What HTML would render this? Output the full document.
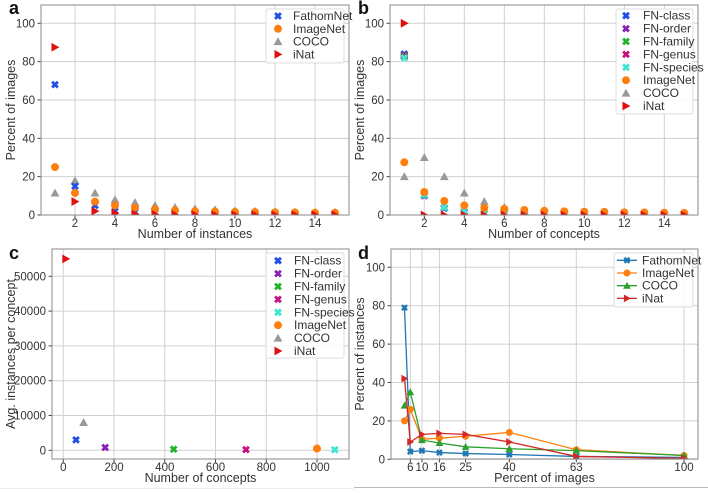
<!DOCTYPE html>
<html><head><meta charset="utf-8">
<style>
body{margin:0;background:#fff;}
svg{display:block;font-family:"Liberation Sans","DejaVu Sans",sans-serif;}
.tick{font-size:11.5px;fill:#333;}
.axt{font-size:12.5px;fill:#333;}
.leg{font-size:12px;fill:#333;}
.pl{font-size:18px;font-weight:bold;fill:#111;}
</style></head>
<body>
<svg id="chart" width="708" height="493" viewBox="0 0 708 493"></svg>
<script>
// ---------- data ----------
const xInst = [1,2,3,4,5,6,7,8,9,10,11,12,13,14,15];
const aFathom = [68,15,5,2,1.5,1,0.8,0.6,0.5,0.4,0.3,0.3,0.2,0.2,0.2];
const aImageNet = [25,11.5,7,5,3.8,3,2.5,2,1.8,1.6,1.5,1.4,1.3,1.2,1.2];
const aCOCO = [11.5,18,11.5,8,6.5,5,4,3.3,2.8,2.3,2,1.8,1.6,1.5,1.4];
const aINat = [87.5,7,2,1,0.5,0.3,0.2,0.2,0.1,0.1,0.1,0.1,0.1,0.1,0.1];

const bFNclass = [84,10,3.5,1.5,0.8,0.5,0.3,0.2,0.1,0.1,0.1,0.1,0.1,0.1,0.1];
const bFNorder = [83.5,10.2,3.7,1.6,0.8,0.5,0.3,0.2,0.1,0.1,0.1,0.1,0.1,0.1,0.1];
const bFNfamily = [83,10.3,3.8,1.7,0.9,0.5,0.3,0.2,0.1,0.1,0.1,0.1,0.1,0.1,0.1];
const bFNgenus = [82.5,10.4,3.9,1.8,0.9,0.5,0.3,0.2,0.1,0.1,0.1,0.1,0.1,0.1,0.1];
const bFNspecies = [82,10.5,4,2,1,0.6,0.3,0.2,0.1,0.1,0.1,0.1,0.1,0.1,0.1];
const bImageNet = [27.5,12,7.3,5,3.7,3.2,2.6,2.2,1.9,1.7,1.6,1.4,1.3,1.2,1.1];
const bCOCO = [20,30,20,11.5,7,4,2,1,0.6,0.4,0.3,0.2,0.1,0.1,0.1];
const bINat = [100,0,0,0,0,0,0,0,0,0,0,0,0,0,0];

const cNames = ["FN-class","FN-order","FN-family","FN-genus","FN-species","ImageNet","COCO","iNat"];
const cConcepts = [50,165,435,720,1070,1000,80,10];
const cAvgInst = [3000,800,300,200,150,500,8000,55000];

const dX = [4,6,10,16,25,40,63,100];
const dFathom = [79,4,4.5,3.5,3,2.5,1.5,1];
const dImageNet = [20,26,10.5,11,12,14,5,2];
const dCOCO = [28,35,10,8.5,6.5,5.5,4.5,2];
const dINat = [42,9,13,13.5,13,9,1.5,0.5];

const xTicksInst = [2,4,6,8,10,12,14];
const yTicksPct = [0,20,40,60,80,100];
const cXTicks = [0,200,400,600,800,1000];
const cYTicks = [0,10000,20000,30000,40000,50000];
const dXTicks = [6,10,16,25,40,63,100];

// ---------- helpers ----------
const NS="http://www.w3.org/2000/svg";
const svg=document.getElementById('chart');
function mk(tag,attrs,parent){const e=document.createElementNS(NS,tag);for(const k in attrs)e.setAttribute(k,attrs[k]);(parent||svg).appendChild(e);return e;}
function txt(s,attrs,parent){const e=mk('text',attrs,parent);e.textContent=s;return e;}

function marker(g,type,x,y,color,s){
  let e;
  if(type==='x'){
    const a=s*0.36;
    e=mk('path',{d:`M${x-a},${y-a}L${x+a},${y+a}M${x+a},${y-a}L${x-a},${y+a}`,stroke:color,'stroke-width':s*0.36,fill:'none'},g);
  }else if(type==='o'){
    e=mk('circle',{cx:x,cy:y,r:s*0.5,fill:color},g);
  }else if(type==='^'){
    const h=s*0.55;
    e=mk('polygon',{points:`${x},${y-h} ${x+h},${y+h*0.8} ${x-h},${y+h*0.8}`,fill:color},g);
  }else{
    const h=s*0.55;
    e=mk('polygon',{points:`${x+h},${y} ${x-h*0.8},${y-h} ${x-h*0.8},${y+h}`,fill:color},g);
  }
  return e;
}

function panel(cfg){
  const g=mk('g',{});
  
  
  const {L,R,T,B}=cfg;
  const sx=v=>cfg.x0px+(v-cfg.x0)*cfg.xs;
  const sy=v=>cfg.y0px-(v-cfg.y0)*cfg.ys;
  const grid=mk('g',{},g);
  
  
  cfg.xt.forEach(t=>{mk('line',{x1:sx(t),x2:sx(t),y1:T,y2:B,stroke:'#d0d0d0','stroke-width':1},grid);});
  cfg.yt.forEach(t=>{mk('line',{x1:L,x2:R,y1:sy(t),y2:sy(t),stroke:'#d0d0d0','stroke-width':1},grid);});
  const xa=mk('g',{},g);
  
  
  cfg.xt.forEach(t=>{
    mk('line',{x1:sx(t),x2:sx(t),y1:B,y2:B+3.5,stroke:'#444'},xa);
    const lab=txt(String(t),{x:sx(t),y:B+cfg.xtOff,'text-anchor':'middle',class:'tick'},xa);
    
    
  });
  const ya=mk('g',{},g);
  
  
  cfg.yt.forEach(t=>{
    mk('line',{x1:L-3.5,x2:L,y1:sy(t),y2:sy(t),stroke:'#444'},ya);
    const lab=txt(String(t),{x:L-6,y:sy(t)+4,'text-anchor':'end',class:'tick'},ya);
    
    
  });
  const xtl=txt(cfg.xlabel,{x:(L+R)/2,y:cfg.xly,'text-anchor':'middle',class:'axt'},g);
  
  
  const ytl=txt(cfg.ylabel,{x:0,y:0,'text-anchor':'middle',class:'axt',transform:`translate(${cfg.ylx},${(T+B)/2}) rotate(-90)`},g);
  
  
  const clip='clip-'+cfg.name;
  const cp=mk('clipPath',{id:clip},g);
  mk('rect',{x:L,y:T,width:R-L,height:B-T},cp);
  const sg=mk('g',{'clip-path':`url(#${clip})`},g);
  cfg.series.forEach(s=>{
    const sgg=mk('g',{},sg);
    
    
    if(s.line){
      const pts=s.x.map((xv,i)=>sx(xv)+','+sy(s.y[i])).join(' ');
      const pl=mk('polyline',{points:pts,fill:'none',stroke:s.color,'stroke-width':1.3},sgg);
      
      
    }
    s.x.forEach((xv,i)=>{
      const m=marker(sgg,s.m,sx(xv),sy(s.y[i]),s.color,s.size||8);
      
      
    });
  });
  mk('rect',{x:L,y:T,width:R-L,height:B-T,fill:'none',stroke:'#888','stroke-width':1},g);
  const lg=mk('g',{},g);
  
  
  const le=cfg.legend;
  mk('rect',{x:le.x,y:le.y,width:le.w,height:le.h,fill:'#fff','fill-opacity':0.85,stroke:'#ddd',rx:2},lg);
  cfg.legendOrder.forEach((s,i)=>{
    const yy=le.y0+i*le.dy;
    const eg=mk('g',{},lg);
    
    
    if(s.line) mk('line',{x1:le.mx-10,x2:le.mx+10,y1:yy,y2:yy,stroke:s.color,'stroke-width':1.3},eg);
    marker(eg,s.m,le.mx,yy,s.color,s.size||8);
    txt(s.label,{x:le.tx,y:yy+4,class:'leg'},eg);
  });
  const pl=txt(cfg.letter,{x:cfg.lx,y:cfg.ly,class:'pl'},g);
  
  
}

const C={blue:'#1f4fe6',orange:'#ff7f0e',gray:'#999999',red:'#e01010',purple:'#8a22b5',green:'#22b22a',magenta:'#c8107e',cyan:'#3ee6d2'};

(function(){
  const sF={label:'FathomNet',x:xInst,y:aFathom,m:'x',color:C.blue};
  const sI={label:'ImageNet',x:xInst,y:aImageNet,m:'o',color:C.orange};
  const sC={label:'COCO',x:xInst,y:aCOCO,m:'^',color:C.gray};
  const sN={label:'iNat',x:xInst,y:aINat,m:'>',color:C.red};
  panel({name:'panel-a',letter:'a',lx:9,ly:14,L:41,R:349,T:5,B:215,xtOff:12,
    x0:1,x0px:55,xs:20,y0:0,y0px:215,ys:1.917,xt:xTicksInst,yt:yTicksPct,
    xlabel:'Number of instances',ylabel:'Percent of images',xly:238,ylx:15,
    series:[sC,sF,sI,sN],legendOrder:[sF,sI,sC,sN],
    legend:{x:266,y:9,w:78,h:54,y0:16,dy:12.8,mx:278,tx:293}});
})();
(function(){
  const S=[
    {label:'FN-class',x:xInst,y:bFNclass,m:'x',color:C.blue},
    {label:'FN-order',x:xInst,y:bFNorder,m:'x',color:C.purple},
    {label:'FN-family',x:xInst,y:bFNfamily,m:'x',color:C.green},
    {label:'FN-genus',x:xInst,y:bFNgenus,m:'x',color:C.magenta},
    {label:'FN-species',x:xInst,y:bFNspecies,m:'x',color:C.cyan},
    {label:'ImageNet',x:xInst,y:bImageNet,m:'o',color:C.orange},
    {label:'COCO',x:xInst,y:bCOCO,m:'^',color:C.gray},
    {label:'iNat',x:xInst,y:bINat,m:'>',color:C.red}];
  panel({name:'panel-b',letter:'b',lx:358,ly:14,L:390,R:698,T:5,B:215,xtOff:12,
    x0:2,x0px:424.3,xs:20,y0:0,y0px:215,ys:1.917,xt:xTicksInst,yt:yTicksPct,
    xlabel:'Number of concepts',ylabel:'Percent of images',xly:238,ylx:364,
    series:[S[6],S[0],S[1],S[2],S[3],S[4],S[5],S[7]],legendOrder:S,
    legend:{x:616,y:9,w:77,h:105,y0:15.7,dy:12.9,mx:626,tx:643}});
})();
(function(){
  const ms=['x','x','x','x','x','o','^','>'];
  const cs=[C.blue,C.purple,C.green,C.magenta,C.cyan,C.orange,C.gray,C.red];
  const S=cNames.map((n,i)=>({label:n,x:[cConcepts[i]],y:[cAvgInst[i]],m:ms[i],color:cs[i]}));
  panel({name:'panel-c',letter:'c',lx:9,ly:259,L:52,R:349,T:249,B:459,xtOff:12,
    x0:0,x0px:63.3,xs:0.2537,y0:0,y0px:450.3,ys:174/50000,xt:cXTicks,yt:cYTicks,
    xlabel:'Number of concepts',ylabel:'Avg. instances per concept',xly:482,ylx:15,
    series:S,legendOrder:S,
    legend:{x:266,y:253,w:78,h:105,y0:260.7,dy:12.9,mx:278,tx:294}});
})();
(function(){
  const S=[
    {label:'FathomNet',x:dX,y:dFathom,m:'x',color:'#1f77b4',line:true,size:7},
    {label:'ImageNet',x:dX,y:dImageNet,m:'o',color:'#ff7f0e',line:true,size:7},
    {label:'COCO',x:dX,y:dCOCO,m:'^',color:'#2ca02c',line:true,size:7},
    {label:'iNat',x:dX,y:dINat,m:'>',color:'#d62728',line:true,size:7}];
  panel({name:'panel-d',letter:'d',lx:358,ly:259,L:391,R:698,T:249,B:459,xtOff:12,
    x0:6,x0px:410.3,xs:2.912,y0:0,y0px:459.3,ys:1.92,xt:dXTicks,yt:yTicksPct,
    xlabel:'Percent of images',ylabel:'Percent of instances',xly:482,ylx:364,
    series:S,legendOrder:S,
    legend:{x:614,y:253,w:79,h:54,y0:260.3,dy:12.7,mx:627,tx:642}});
})();
mk('line',{x1:354,x2:708,y1:487.5,y2:487.5,stroke:'#bbb','stroke-width':1});
mk('line',{x1:0,x2:354,y1:488.5,y2:488.5,stroke:'#eee','stroke-width':1});
</script>
</body></html>
